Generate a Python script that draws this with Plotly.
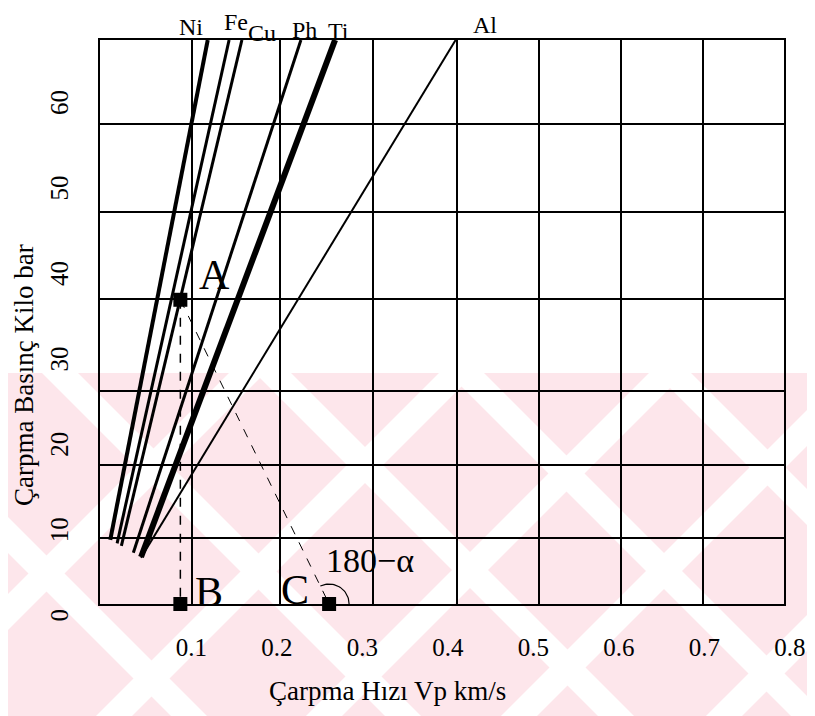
import numpy as np
import plotly.graph_objects as go

# ---------------- data ----------------
metals = ["Ni", "Fe", "Cu", "Ph", "Ti", "Al"]
v_start = [0.012, 0.020, 0.025, 0.039, 0.048, 0.048]   # km/s
p_start = [7.5, 7.1, 6.8, 6.0, 5.5, 5.4]                 # kbar
v_end = [0.126, 0.151, 0.166, 0.235, 0.275, 0.416]
p_end = [66, 66, 66, 66, 66, 66]

point_names = ["A", "B", "C"]
v_points = [0.094, 0.094, 0.268]
p_points = [35.6, 0.0, 0.0]

x_tick_vals = [0.1, 0.2, 0.3, 0.4, 0.5, 0.6, 0.7, 0.8]
x_tick_text = ["0.1", "0.2", "0.3", "0.4", "0.5", "0.6", "0.7", "0.8"]
y_tick_vals = [0, 10, 20, 30, 40, 50, 60]
y_tick_text = ["0", "10", "20", "30", "40", "50", "60"]

# ---------------- style / layout ----------------
PAGE_W, PAGE_H = 815, 716
BODY = 8                      # default <body> margin of the html page
W, H = PAGE_W - BODY, PAGE_H - BODY
ML, MR, MT, MB = 92, 31, 32, 112
X_RANGE = [0, 0.8001]
Y_RANGE = [0, 66]
# grid of the original (hand drawn, irregular)
x_grid = [0.1076, 0.2105, 0.3193, 0.4175, 0.5135, 0.6094, 0.7053]
y_grid = [7.72, 16.27, 24.93, 35.69, 45.87, 56.17]
line_widths = [4, 3, 3, 3, 6, 2]
FONT = "Liberation Serif"

PW, PH = W - ML - MR, H - MT - MB
kx = PW / (X_RANGE[1] - X_RANGE[0])
ky = PH / (Y_RANGE[1] - Y_RANGE[0])

fig = go.Figure()

# page pixel -> paper coordinates
def px(x):
    return (x - BODY - ML) / PW

def py(y):
    return (BODY + MT + PH - y) / PH

# watermark (decorative)
PINK = "#fde6eb"
WM_TOP = 373
shapes = [dict(type="rect", xref="paper", yref="paper", x0=px(0), x1=px(PAGE_W + 20),
               y0=py(WM_TOP), y1=py(PAGE_H + 20), fillcolor=PINK, line=dict(width=0),
               layer="below")]

def band(pts):
    path = "M " + " L ".join(f"{px(a):.4f},{py(b):.4f}" for a, b in pts) + " Z"
    shapes.append(dict(type="path", xref="paper", yref="paper", path=path,
                       fillcolor="white", line=dict(width=0), layer="below"))

BW = 36
y0, y1 = WM_TOP, PAGE_H + 10
for s in [620, 830, 1040, 1235, 1440]:       # "/" stripes: x + y = s
    band([(s - y1 - BW / 2, y1), (s - y1 + BW / 2, y1),
          (s - y0 + BW / 2, y0), (s - y0 - BW / 2, y0)])
for d in [-527, -313, -100, 93, 300]:        # "\" stripes: x - y = d
    band([(d + y1 - BW / 2, y1), (d + y1 + BW / 2, y1),
          (d + y0 + BW / 2, y0), (d + y0 - BW / 2, y0)])

# metal lines
for name, xs0, ys0, xs1, ys1, lw in zip(metals, v_start, p_start, v_end, p_end, line_widths):
    fig.add_trace(go.Scatter(x=[xs0, xs1], y=[ys0, ys1], mode="lines",
                             line=dict(color="black", width=lw), name=name,
                             showlegend=False, hoverinfo="name"))

vA, vB, vC = v_points
pA, pB, pC = p_points
# A-B dashed vertical, A-C dashed
fig.add_trace(go.Scatter(x=[vA, vB], y=[pA, pB], mode="lines",
                         line=dict(color="black", width=1.5, dash="dash"), showlegend=False))
fig.add_trace(go.Scatter(x=[vA, vC], y=[pA, pC], mode="lines",
                         line=dict(color="black", width=1, dash="dash"), showlegend=False))

# angle arc at C (radius in px)
r = 20
ang = np.arctan2((pA - pC) * ky, (vA - vC) * kx)
th = np.linspace(0, ang, 30)
fig.add_trace(go.Scatter(x=vC + r * np.cos(th) / kx, y=pC + r * np.sin(th) / ky,
                         mode="lines", line=dict(color="black", width=1.2),
                         showlegend=False, cliponaxis=False))

# points
fig.add_trace(go.Scatter(x=v_points, y=p_points, mode="markers",
                         marker=dict(symbol="square", size=14, color="black"),
                         showlegend=False, cliponaxis=False))

ann = []
label_offsets = {"Ni": (-17, 13), "Fe": (7, 18), "Cu": (20, 7),
                 "Ph": (4, 10), "Ti": (3, 9), "Al": (29, 15)}
for name, xe, ye in zip(metals, v_end, p_end):
    dx, dy = label_offsets[name]
    ann.append(dict(x=xe, y=ye, text=name, showarrow=False, xshift=dx, yshift=dy,
                    xanchor="center", yanchor="middle",
                    font=dict(family=FONT, size=24, color="black")))
pt_offsets = {"A": (34, 25), "B": (29, 12), "C": (-34, 14)}
for name, xv, yv in zip(point_names, v_points, p_points):
    dx, dy = pt_offsets[name]
    ann.append(dict(x=xv, y=yv, text=name, showarrow=False, xshift=dx, yshift=dy,
                    xanchor="center", yanchor="middle",
                    font=dict(family=FONT, size=42, color="black")))
ann.append(dict(x=vC, y=pC, text="180−α", showarrow=False, xshift=41, yshift=44,
                xanchor="center", yanchor="middle",
                font=dict(family=FONT, size=34, color="black")))
# axis titles
ann.append(dict(xref="paper", yref="paper", x=px(24), y=py(375), text="Çarpma Basınç Kilo bar",
                textangle=-90, showarrow=False, xanchor="center", yanchor="middle",
                font=dict(family=FONT, size=27, color="black")))
ann.append(dict(xref="paper", yref="paper", x=px(387), y=py(691), text="Çarpma Hızı Vp km/s",
                showarrow=False, xanchor="center", yanchor="middle",
                font=dict(family=FONT, size=27, color="black")))

axis_common = dict(showline=True, mirror=True, linecolor="black", linewidth=2,
                   showgrid=False, zeroline=False, ticks="", automargin=False,
                   ticklabeloverflow="allow",
                   tickfont=dict(family=FONT, size=25, color="black"))

fig.update_layout(
    width=W, height=H,
    margin=dict(l=ML, r=MR, t=MT, b=MB, autoexpand=False),
    paper_bgcolor="white", plot_bgcolor="rgba(0,0,0,0)",
    showlegend=False,
    shapes=shapes, annotations=ann,
    xaxis=dict(range=X_RANGE, tickmode="array", tickvals=x_tick_vals, ticktext=x_tick_text,
               ticklabelshift=6, ticklabelstandoff=20,
               minor=dict(tickmode="array", tickvals=x_grid, showgrid=True,
                          gridcolor="black", gridwidth=1.6, ticks=""),
               **axis_common),
    yaxis=dict(range=Y_RANGE, tickmode="array", tickvals=y_tick_vals, ticktext=y_tick_text,
               tickangle=-90, ticklabelshift=15, ticklabelstandoff=20,
               minor=dict(tickmode="array", tickvals=y_grid, showgrid=True,
                          gridcolor="black", gridwidth=1.6, ticks=""),
               **axis_common),
)

fig.write_html("out.html")
